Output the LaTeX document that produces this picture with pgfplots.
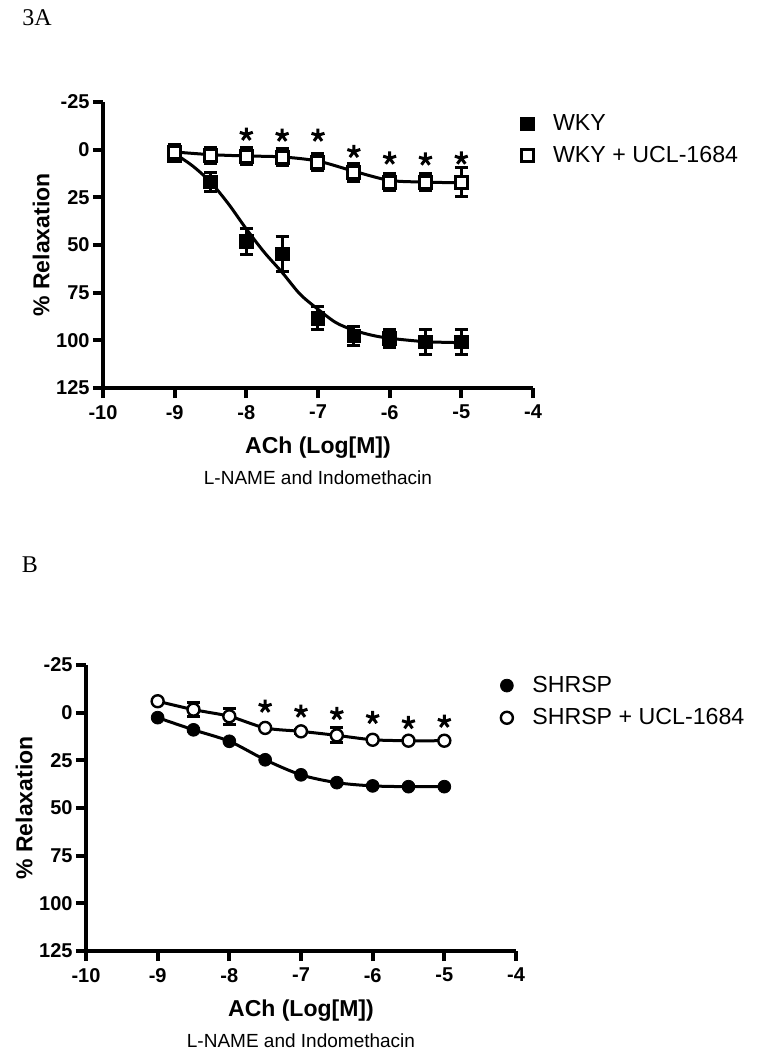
\documentclass[border=0pt]{standalone}
\usepackage{pgfplots}
\pgfplotsset{compat=1.18}
\usepackage{fontspec}
\setmainfont{Liberation Sans}
\newfontfamily\serifpanel{Liberation Serif}
\begin{document}
\begin{tikzpicture}
\path[use as bounding box] (0,0) rectangle (380pt,-525pt);
\pgfplotsset{
  relax/.style={
    scale only axis, width=215pt, height=143pt, anchor=south west,
    xmin=-10, xmax=-4, ymin=-25, ymax=125, y dir=reverse,
    axis x line*=bottom, axis y line*=left,
    axis line style={line width=2pt, -},
    xtick={-10,-9,-8,-7,-6,-5,-4},
    xticklabels={-10,-9,-8,-7,-6,-5,-4},
    ytick={-25,0,25,50,75,100,125},
    yticklabels={-25,0,25,50,75,100,125},
    tick align=outside, major tick length=5pt,
    every tick/.style={line width=2pt, black},
    ticklabel style={font=\fontsize{10}{12}\selectfont\bfseries},
    yticklabel style={inner sep=1.5pt},
    xlabel={ACh (Log[M])},
    xlabel style={font=\fontsize{11.5}{14}\selectfont\bfseries, at={(axis description cs:0.5,0)}, anchor=base, yshift=-32.5pt},
    ylabel={\% Relaxation},
    ylabel style={font=\fontsize{11.5}{14}\selectfont\bfseries, at={(axis description cs:-0.144,0.5)}, anchor=center},
    clip=false,
    legend style={draw=none, fill=none, inner sep=0pt, anchor=north west, font=\fontsize{11.6}{14}\selectfont, nodes={inner sep=2pt}, row sep=2.5pt, /tikz/every odd column/.append style={column sep=7.5pt}},
    legend cell align=left,
  },
  curve/.style={line width=1.5pt, black, smooth, forget plot, mark=none},
  ebar/.style={error bars/.cd, y dir=both, y explicit, error bar style={line width=1.5pt, black}, error mark options={rotate=90, line width=1.5pt, mark size=3.25pt, black}},
  stars/.style={only marks, mark=star, mark size=3.4pt, mark options={line width=1.5pt, black}, forget plot},
}

\node[font=\serifpanel\fontsize{12}{14}\selectfont] at (18.5pt,-9pt) {3A};
\node[font=\serifpanel\fontsize{12}{14}\selectfont] at (15pt,-282.5pt) {B};

% ---------------- Panel A ----------------
\begin{axis}[relax, at={(51.5pt,-194pt)},
  legend style={at={(0.970,0.972)}}]
\addplot[curve] coordinates {(-9,2.1) (-8.75,8.5) (-8.5,17) (-8.25,28.4) (-8,41.6) (-7.75,53.8) (-7.5,64.4) (-7.25,75.8) (-7,83.7) (-6.75,90.7) (-6.5,94.7) (-6.25,97.3) (-6,98.9) (-5.5,100.7) (-5,101.2)};
\addplot[curve] coordinates {(-9,1.2) (-8.5,2.6) (-8,3.3) (-7.5,3.8) (-7,6) (-6.5,11.3) (-6,16.1) (-5.5,17) (-5,17.4)};
\addplot[only marks, mark=square*, mark size=3.4pt, mark options={fill=black, draw=black, line width=0.4pt}, ebar]
  coordinates {(-9,3) +- (0,2) (-8.5,17) +- (0,4.8) (-8,48.2) +- (0,6.8) (-7.5,54.7) +- (0,9.4) (-7,88.4) +- (0,6) (-6.5,97.7) +- (0,5.1) (-6,99.1) +- (0,4.6) (-5.5,100.8) +- (0,6.4) (-5,100.8) +- (0,6.4)};
\addlegendentry{WKY}
\addplot[only marks, mark=square*, mark size=3pt, mark options={fill=white, draw=black, line width=1.5pt}, ebar]
  coordinates {(-9,1.5) +- (0,4) (-8.5,3) +- (0,4.4) (-8,3.5) +- (0,4.4) (-7.5,4) +- (0,4.4) (-7,6.5) +- (0,4.6) (-6.5,12) +- (0,4.6) (-6,17) +- (0,4.6) (-5.5,17) +- (0,4.6) (-5,17) +- (0,7.4)};
\addlegendentry{WKY + UCL-1684}
\addplot[stars] coordinates {(-8,-8) (-7.5,-7.5) (-7,-7.5) (-6.5,1) (-6,4.5) (-5.5,5) (-5,4.5)};
\node[font=\fontsize{9.5}{12}\selectfont, anchor=base, yshift=-48pt] at (axis description cs:0.5,0) {L-NAME and Indomethacin};
\end{axis}

% ---------------- Panel B ----------------
\begin{axis}[relax, at={(43pt,-475.5pt)},
  legend style={at={(0.963,0.977)}}]
\addplot[curve] coordinates {(-9,2.6) (-8.5,9) (-8,15) (-7.5,24.7) (-7,32.6) (-6.5,36.7) (-6,38.4) (-5.5,38.8) (-5,38.8)};
\addplot[curve] coordinates {(-9,-6) (-8.5,-1.6) (-8,1.9) (-7.5,8) (-7,9.8) (-6.5,11.9) (-6,14.2) (-5.5,14.7) (-5,14.7)};
\addplot[only marks, mark=*, mark size=3.2pt, mark options={fill=black, draw=black, line width=0.4pt}]
  coordinates {(-9,2.6) (-8.5,9) (-8,15) (-7.5,24.7) (-7,32.6) (-6.5,36.7) (-6,38.4) (-5.5,38.8) (-5,38.8)};
\addlegendentry{SHRSP}
\addplot[only marks, mark=*, mark size=3pt, mark options={fill=white, draw=black, line width=1.2pt}, ebar]
  coordinates {(-9,-6) +- (0,0) (-8.5,-1.6) +- (0,3.5) (-8,1.9) +- (0,4.2) (-7.5,8) +- (0,0) (-7,9.8) +- (0,1) (-6.5,11.9) +- (0,4) (-6,14.2) +- (0,0) (-5.5,14.7) +- (0,0) (-5,14.7) +- (0,0)};
\addlegendentry{SHRSP + UCL-1684}
\addplot[stars] coordinates {(-7.5,-3.3) (-7,-0.7) (-6.5,0.5) (-6,2.6) (-5.5,5.3) (-5,4.6)};
\node[font=\fontsize{9.5}{12}\selectfont, anchor=base, yshift=-48pt] at (axis description cs:0.5,0) {L-NAME and Indomethacin};
\end{axis}
\end{tikzpicture}
\end{document}
